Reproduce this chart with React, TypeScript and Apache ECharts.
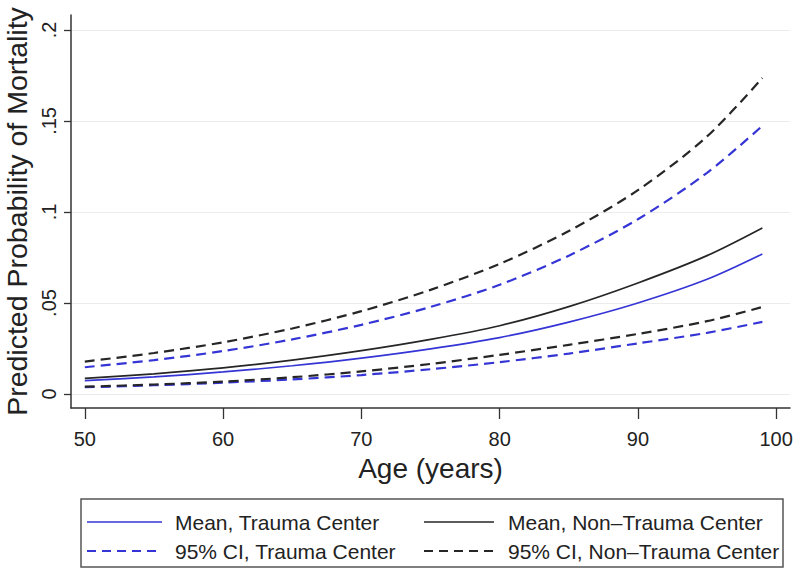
import React, { useEffect, useRef } from "react";
import * as echarts from "echarts";

const ages = [50, 55, 60, 65, 70, 75, 80, 85, 90, 95, 99];
const meanTrauma = [0.0073, 0.0094, 0.0121, 0.0155, 0.0197, 0.0248, 0.031, 0.0395, 0.05, 0.063, 0.0769];
const meanNonTrauma = [0.0086, 0.0111, 0.0143, 0.0186, 0.0238, 0.03, 0.0375, 0.048, 0.061, 0.076, 0.0912];
const upperTrauma = [0.0147, 0.0186, 0.0236, 0.03, 0.038, 0.0478, 0.06, 0.076, 0.096, 0.1215, 0.1473];
const lowerTrauma = [0.0037, 0.0048, 0.0062, 0.008, 0.0104, 0.0136, 0.0175, 0.0222, 0.0278, 0.0336, 0.0396];
const upperNonTrauma = [0.0178, 0.0225, 0.0284, 0.036, 0.0455, 0.0572, 0.0715, 0.0895, 0.112, 0.1415, 0.1736];
const lowerNonTrauma = [0.004, 0.0052, 0.0068, 0.0092, 0.0124, 0.0165, 0.0215, 0.027, 0.033, 0.04, 0.0478];

const xTicks = [50, 60, 70, 80, 90, 100];
const yTicks = [0, 0.05, 0.1, 0.15, 0.2];

const legendLabels = [
  "Mean, Trauma Center",
  "Mean, Non\u2013Trauma Center",
  "95% CI, Trauma Center",
  "95% CI, Non\u2013Trauma Center",
];

const BLUE = "#3535d6";
const BLACK = "#262626";
const FONT = "Liberation Sans, Arial, sans-serif";

function pts(vals: number[]) {
  return ages.map((a, i) => [a, vals[i]]);
}

export default function App() {
  const ref = useRef<HTMLDivElement>(null);
  useEffect(() => {
    if (!ref.current) return;
    const chart = echarts.init(ref.current, null, { renderer: "svg" });
    const solid = (name: string, data: number[], color: string) => ({
      name,
      type: "line",
      data: pts(data),
      showSymbol: false,
      smooth: 0.3,
      lineStyle: { color, width: 1.7, type: "solid" },
      itemStyle: { color },
    });
    const dashed = (name: string, data: number[], color: string) => ({
      name,
      type: "line",
      data: pts(data),
      showSymbol: false,
      smooth: 0.3,
      lineStyle: { color, width: 2.2, type: [10, 6] },
      itemStyle: { color },
    });

    const legendRows = [
      { y: 522, col: 0, label: legendLabels[0], color: BLUE, dash: false },
      { y: 522, col: 1, label: legendLabels[1], color: BLACK, dash: false },
      { y: 551, col: 0, label: legendLabels[2], color: BLUE, dash: true },
      { y: 551, col: 1, label: legendLabels[3], color: BLACK, dash: true },
    ];
    const colX = [
      { x1: 87, x2: 162, tx: 175 },
      { x1: 424, x2: 494, tx: 508 },
    ];
    const graphics: any[] = [
      {
        type: "rect",
        shape: { x: 81, y: 499, width: 702, height: 68 },
        style: { fill: "#fff", stroke: "#555", lineWidth: 1.5 },
      },
    ];
    legendRows.forEach((r) => {
      const c = colX[r.col];
      graphics.push({
        type: "line",
        shape: { x1: c.x1, y1: r.y, x2: c.x2, y2: r.y },
        style: {
          stroke: r.color,
          lineWidth: r.dash ? 1.8 : 1.7,
          lineDash: r.dash ? [9, 6] : null,
        },
      });
      graphics.push({
        type: "text",
        x: c.tx,
        y: r.y,
        style: {
          text: r.label,
          fill: "#222",
          font: `21px ${FONT}`,
          textVerticalAlign: "middle",
          verticalAlign: "middle",
        },
      });
    });

    chart.setOption({
      animation: false,
      backgroundColor: "#ffffff",
      textStyle: { fontFamily: FONT },
      grid: {
        left: 71,
        right: 10,
        top: 15,
        bottom: 169,
        containLabel: false,
        outerBoundsMode: "none",
      },
      xAxis: {
        type: "value",
        min: 49,
        max: 101,
        name: "Age (years)",
        nameLocation: "middle",
        nameGap: 46,
        nameTextStyle: { fontSize: 28, color: "#222", fontFamily: FONT },
        axisLine: { show: true, onZero: false, lineStyle: { color: "#333", width: 1.5 } },
        axisTick: { show: true, length: 11, customValues: xTicks, lineStyle: { color: "#333", width: 1.3 } },
        axisLabel: { customValues: xTicks, fontSize: 20, color: "#222", margin: 21, fontFamily: FONT },
        splitLine: { show: false },
      },
      yAxis: {
        type: "value",
        min: -0.0077,
        max: 0.2082,
        name: "Predicted Probability of Mortality",
        nameLocation: "middle",
        nameGap: 24,
        nameRotate: 90,
        nameTextStyle: { fontSize: 28.5, color: "#222", fontFamily: FONT },
        axisLine: { show: true, onZero: false, lineStyle: { color: "#333", width: 1.5 } },
        axisTick: { show: true, length: 7, customValues: yTicks, lineStyle: { color: "#333", width: 1.3 } },
        axisLabel: {
          customValues: yTicks,
          rotate: 90,
          fontSize: 20,
          color: "#222",
          margin: 12,
          fontFamily: FONT,
          formatter: (v: number) => (v === 0 ? "0" : String(v).replace(/^0/, "")),
        },
        splitLine: { show: true, lineStyle: { color: "#ececec", width: 1 } },
      },
      series: [
        solid(legendLabels[0], meanTrauma, BLUE),
        solid(legendLabels[1], meanNonTrauma, BLACK),
        dashed(legendLabels[2], upperTrauma, BLUE),
        dashed(legendLabels[2] + " lower", lowerTrauma, BLUE),
        dashed(legendLabels[3], upperNonTrauma, BLACK),
        dashed(legendLabels[3] + " lower", lowerNonTrauma, BLACK),
      ],
      graphic: graphics,
    });
    return () => chart.dispose();
  }, []);
  return <div ref={ref} style={{ width: 800, height: 577, position: "absolute", left: 0, top: 0 }} />;
}
